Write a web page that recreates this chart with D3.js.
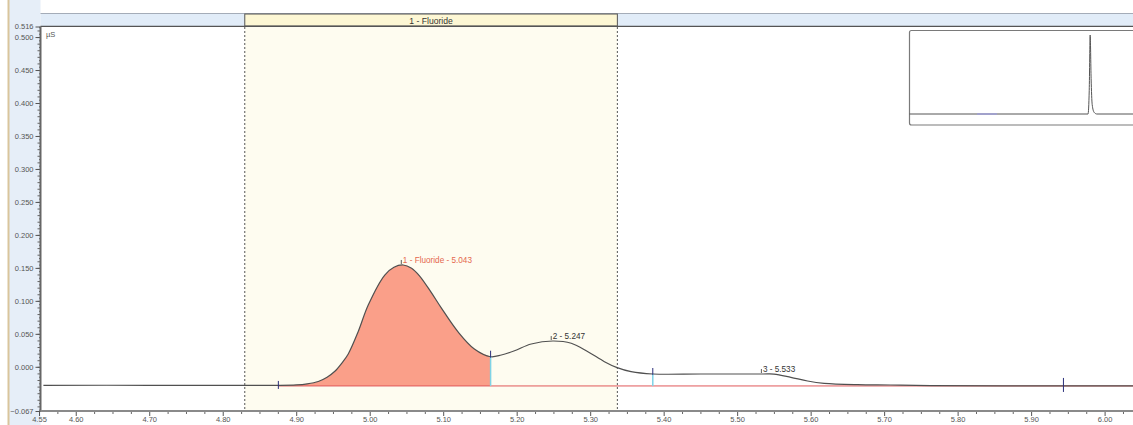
<!DOCTYPE html>
<html>
<head>
<meta charset="utf-8">
<script src="https://cdn.jsdelivr.net/npm/d3@7"></script>
<style>
  html, body { margin: 0; padding: 0; background: #ffffff; }
  svg { display: block; font-family: "Liberation Sans", Arial, sans-serif; }
</style>
</head>
<body>
<svg id="chart" width="1133" height="425"></svg>
<script>
// ---------- DATA ----------
// chromatogram (retention time in min, conductivity in µS)
const times  = [4.556, 4.70, 4.85, 4.8757, 4.90, 4.915, 4.93, 4.942, 4.9526, 4.962, 4.9708, 4.9844, 4.998, 5.0205, 5.033, 5.0455, 5.057, 5.0677, 5.083, 5.0976, 5.1202, 5.1424, 5.1645, 5.1791, 5.1971, 5.2198, 5.2493, 5.2742, 5.2969, 5.3194, 5.3367, 5.3557, 5.3852, 5.4508, 5.535, 5.55, 5.5731, 5.5958, 5.6183, 5.6637, 5.709, 5.7633, 5.944, 6.04];
const signal = [-0.028, -0.028, -0.0282, -0.0282, -0.0275, -0.0258, -0.0222, -0.0158, -0.0068, 0.0055, 0.0195, 0.0535, 0.0937, 0.1392, 0.151, 0.1544, 0.1495, 0.138, 0.114, 0.089, 0.053, 0.027, 0.0153, 0.0179, 0.0244, 0.0346, 0.0391, 0.0357, 0.0229, 0.0078, -0.0013, -0.0074, -0.0109, -0.0109, -0.0109, -0.011, -0.0159, -0.0215, -0.025, -0.0271, -0.0276, -0.0286, -0.029, -0.029];

// peaks
const peakLabels  = ["1 - Fluoride - 5.043", "2 - 5.247", "3 - 5.533"];
const peakTimes   = [5.043, 5.247, 5.533];
const peakHeights = [0.1544, 0.0391, -0.0109];
// integration boundaries (start of peak 1, splits, end of peak 3) and baseline level
const boundaryTimes  = [4.8757, 5.1645, 5.3852, 5.944];
const boundaryValues = [-0.0282, 0.0153, -0.0109, -0.029];
const baselineLevel  = -0.029;
// highlighted component window
const windowName  = "1 - Fluoride";
const windowStart = 4.830;
const windowEnd   = 5.337;

// axes
const xTicks = [4.55, 4.60, 4.70, 4.80, 4.90, 5.00, 5.10, 5.20, 5.30, 5.40, 5.50, 5.60, 5.70, 5.80, 5.90, 6.00];
const yTicks = [-0.067, 0.000, 0.050, 0.100, 0.150, 0.200, 0.250, 0.300, 0.350, 0.400, 0.450, 0.500, 0.516];
const yUnit  = "µS";

// overview inset (full run)
const insetTimes  = [-0.5, 12.84, 12.93, 13.0, 13.07, 13.15, 13.3, 13.5, 16.2];
const insetSignal = [0, 0, 0.3, 1.0, 0.45, 0.12, 0.02, 0, 0];

// ---------- DRAW ----------
const W = 1133, H = 425;
const svg = d3.select("#chart");
const plotLeft = 40.5, plotTop = 27, plotBottom = 411;

const x = d3.scaleLinear().domain([4.55, 6.04]).range([39, 1134]);
const y = d3.scaleLinear().domain([-0.067, 0.516]).range([411, 26.5]);
const smooth = d3.curveCatmullRom.alpha(0.5);

// background pieces
svg.append("rect").attr("x", 0).attr("y", 0).attr("width", W).attr("height", H).attr("fill", "#ffffff");
svg.append("rect").attr("x", 9).attr("y", 0).attr("width", plotLeft - 9).attr("height", H).attr("fill", "#e6eef8");
svg.append("line").attr("x1", 8.5).attr("x2", 8.5).attr("y1", 0).attr("y2", H)
   .attr("stroke", "#d9c59c").attr("stroke-width", 2);

// header band
svg.append("rect").attr("x", plotLeft).attr("y", 13.5).attr("width", W - plotLeft).attr("height", 12.5)
   .attr("fill", "#e1ecf8");
svg.append("line").attr("x1", plotLeft).attr("x2", W).attr("y1", 13.5).attr("y2", 13.5)
   .attr("stroke", "#a4acb8").attr("stroke-width", 1);
svg.append("rect").attr("x", x(windowStart)).attr("y", 14).attr("width", x(windowEnd) - x(windowStart)).attr("height", 12)
   .attr("fill", "#fdf7d4").attr("stroke", "#555").attr("stroke-width", 1);
svg.append("text").attr("x", (x(windowStart) + x(windowEnd)) / 2).attr("y", 23.5)
   .attr("text-anchor", "middle").attr("font-size", 8.6).attr("fill", "#333").text(windowName);
svg.append("line").attr("x1", plotLeft).attr("x2", W).attr("y1", 26.5).attr("y2", 26.5)
   .attr("stroke", "#555").attr("stroke-width", 1.5);

// plot area
svg.append("rect").attr("x", plotLeft).attr("y", plotTop).attr("width", W - plotLeft).attr("height", plotBottom - plotTop)
   .attr("fill", "#ffffff");
svg.append("rect").attr("x", x(windowStart)).attr("y", plotTop).attr("width", x(windowEnd) - x(windowStart))
   .attr("height", plotBottom - plotTop).attr("fill", "#fefcf0");
[windowStart, windowEnd].forEach(t => {
  svg.append("line").attr("x1", x(t)).attr("x2", x(t)).attr("y1", plotTop).attr("y2", plotBottom)
     .attr("stroke", "#555").attr("stroke-width", 1).attr("stroke-dasharray", "2,2");
});

// inset overview
const ix = d3.scaleLinear().domain([-0.5, 16.2]).range([909.5, 1133]);
const iy = d3.scaleLinear().domain([0, 1]).range([114, 35]);
svg.append("rect").attr("x", 909.5).attr("y", 30.5).attr("width", 260).attr("height", 94.5).attr("rx", 2)
   .attr("fill", "#ffffff").attr("stroke", "#7a7a7a").attr("stroke-width", 1.2);
const insetPts = insetTimes.map((t, i) => [t, insetSignal[i]]);
svg.append("path").datum(insetPts)
   .attr("d", d3.line().x(d => ix(d[0])).y(d => iy(d[1])).curve(d3.curveMonotoneX))
   .attr("fill", "none").attr("stroke", "#555").attr("stroke-width", 1);
svg.append("line").attr("x1", ix(x.domain()[0])).attr("x2", ix(x.domain()[1])).attr("y1", iy(0)).attr("y2", iy(0))
   .attr("stroke", "#9a9af0").attr("stroke-width", 1.4).attr("opacity", 0.7);

// chromatogram
const pts = times.map((t, i) => [t, signal[i]]);
const peak1 = pts.filter(d => d[0] >= boundaryTimes[0] && d[0] <= boundaryTimes[1]);
svg.append("path").datum(peak1)
   .attr("d", d3.area().x(d => x(d[0])).y0(y(baselineLevel)).y1(d => y(d[1])).curve(smooth))
   .attr("fill", "#fa9f89");

// baseline (integration)
svg.append("line").attr("x1", x(boundaryTimes[0])).attr("x2", x(6.04)).attr("y1", y(baselineLevel)).attr("y2", y(baselineLevel))
   .attr("stroke", "#e0585a").attr("stroke-width", 1);

svg.append("path").datum(pts)
   .attr("d", d3.line().x(d => x(d[0])).y(d => y(d[1])).curve(smooth))
   .attr("fill", "none").attr("stroke", "#505050").attr("stroke-width", 1.2);

// boundary markers
boundaryTimes.forEach((t, i) => {
  const bx = x(t);
  if (i === 0 || i === boundaryTimes.length - 1) {
    const half = i === 0 ? 4 : 7;
    svg.append("line").attr("x1", bx).attr("x2", bx)
       .attr("y1", y(baselineLevel) - half - 1).attr("y2", y(baselineLevel) + half - 1)
       .attr("stroke", "#2a2f7a").attr("stroke-width", 1);
  } else {
    svg.append("line").attr("x1", bx).attr("x2", bx)
       .attr("y1", y(boundaryValues[i])).attr("y2", y(baselineLevel))
       .attr("stroke", "#7fd3e6").attr("stroke-width", 1.5);
    svg.append("line").attr("x1", bx).attr("x2", bx)
       .attr("y1", y(boundaryValues[i]) - 6).attr("y2", y(boundaryValues[i]) + 1)
       .attr("stroke", "#2a2f7a").attr("stroke-width", 1);
  }
});

// peak labels
peakLabels.forEach((lab, i) => {
  const px = x(peakTimes[i]), py = y(peakHeights[i]);
  svg.append("line").attr("x1", px).attr("x2", px).attr("y1", py - 5).attr("y2", py - 1)
     .attr("stroke", "#333").attr("stroke-width", 0.8);
  svg.append("text").attr("x", px + 1.5).attr("y", py - 2)
     .attr("font-size", 8.2).attr("fill", i === 0 ? "#e5684e" : "#333").text(lab);
});

// y axis
const yMinor = d3.range(-65, 516, 5).map(v => v / 1000);
svg.append("g").attr("transform", `translate(${plotLeft},0)`)
   .call(d3.axisLeft(y).tickValues(yMinor.filter(v => Math.round(v * 1000) % 10 !== 0)).tickSize(1.5).tickFormat(""))
   .call(g => g.select(".domain").remove())
   .selectAll("line").attr("stroke", "#666");
svg.append("g").attr("transform", `translate(${plotLeft},0)`)
   .call(d3.axisLeft(y).tickValues(yMinor.filter(v => Math.round(v * 1000) % 10 === 0)).tickSize(3).tickFormat(""))
   .call(g => g.select(".domain").remove())
   .selectAll("line").attr("stroke", "#666");
const yAx = svg.append("g").attr("transform", `translate(${plotLeft},0)`)
   .call(d3.axisLeft(y).tickValues(yTicks).tickSize(5).tickPadding(2).tickFormat(d3.format(".3f")));
yAx.select(".domain").remove();
yAx.selectAll("line").attr("stroke", "#555");
yAx.selectAll("text").attr("font-size", 7.5).attr("fill", "#555").attr("font-family", "Liberation Sans, Arial, sans-serif");
svg.append("line").attr("x1", plotLeft).attr("x2", plotLeft).attr("y1", y(0.516)).attr("y2", plotBottom + 1)
   .attr("stroke", "#666").attr("stroke-width", 2);
svg.append("text").attr("x", 46).attr("y", 37).attr("font-size", 7.5).attr("fill", "#555").text(yUnit);

// x axis
const xMinor = d3.range(4575, 6040, 25).map(v => v / 1000).filter(v => Math.round(v * 1000) % 100 !== 0);
svg.append("g").attr("transform", `translate(0,${plotBottom})`)
   .call(d3.axisBottom(x).tickValues(xMinor).tickSize(3).tickFormat(""))
   .call(g => g.select(".domain").remove())
   .selectAll("line").attr("stroke", "#666");
const xAx = svg.append("g").attr("transform", `translate(0,${plotBottom})`)
   .call(d3.axisBottom(x).tickValues(xTicks).tickSize(5).tickPadding(1).tickFormat(d3.format(".2f")));
xAx.select(".domain").remove();
xAx.selectAll("line").attr("stroke", "#555");
xAx.selectAll("text").attr("font-size", 7.5).attr("fill", "#555").attr("font-family", "Liberation Sans, Arial, sans-serif");
svg.append("line").attr("x1", plotLeft).attr("x2", W).attr("y1", plotBottom).attr("y2", plotBottom)
   .attr("stroke", "#8a8a8a").attr("stroke-width", 2);
</script>
</body>
</html>
